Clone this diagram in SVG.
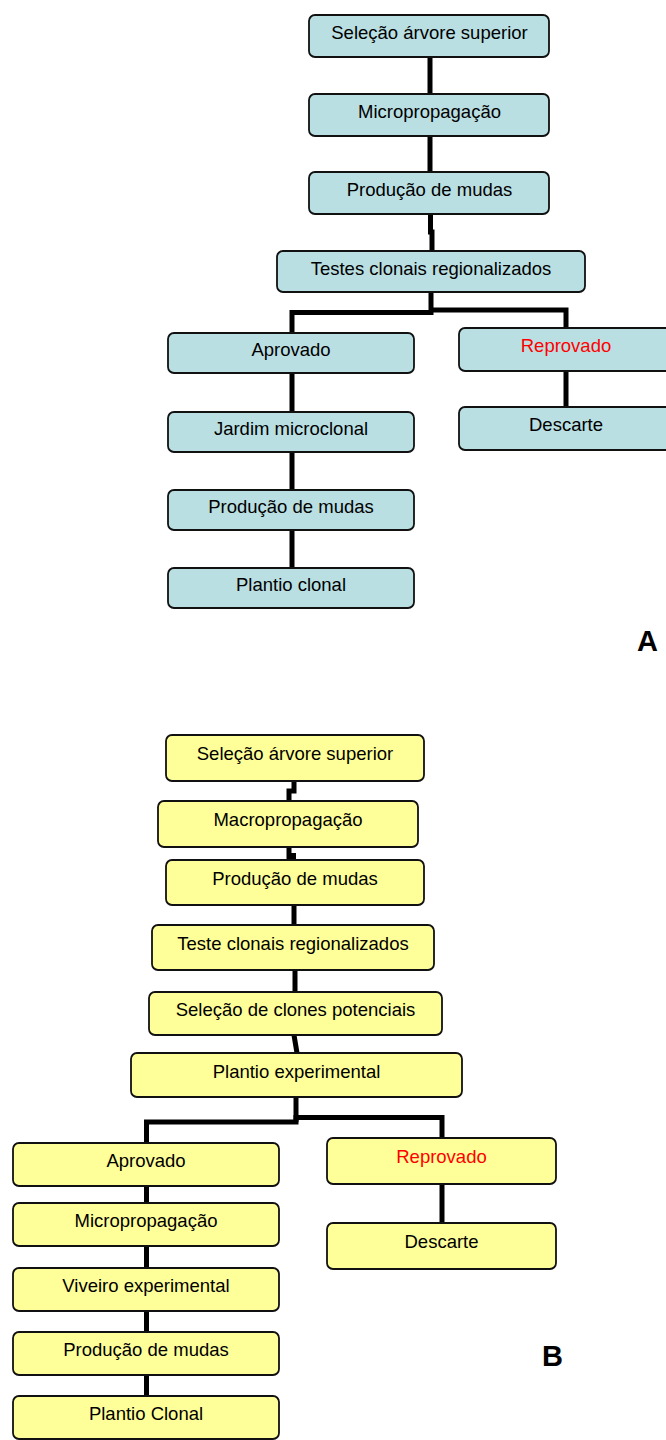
<svg xmlns="http://www.w3.org/2000/svg" width="666" height="1440" viewBox="0 0 666 1440">
<style>
.a rect{fill:#B9DFE2;stroke:#111;stroke-width:1.8}
.b rect{fill:#FFFF99;stroke:#111;stroke-width:1.8}
text{font-family:"Liberation Sans",Arial,sans-serif;font-size:18.5px;fill:#000;text-anchor:middle}
.red{fill:#FF0000}
.lbl{font-weight:bold;font-size:29px;text-anchor:start}
.con path{fill:none;stroke:#000;stroke-width:5}
</style>
<rect width="666" height="1440" fill="#fff"/>
<g class="con" id="connectors">
<path d="M430,57 V94"/>
<path d="M430,136 V172"/>
<path d="M430.5,214 V232 H432 V251"/>
<path d="M431,292 V312"/>
<path d="M292,333 V312.5 H433.5"/>
<path d="M429,310 H566 V328"/>
<path d="M292,373 V412"/>
<path d="M292,452 V490"/>
<path d="M292,530 V568"/>
<path d="M566,371 V407"/>
<path d="M294,781 V791 H289 V801"/>
<path d="M289,847 V860"/>
<path d="M293.5,853 V860"/>
<path d="M294,905 V925"/>
<path d="M295,970 V992"/>
<path d="M294,1035 L297,1053"/>
<path d="M296,1097 V1122"/>
<path d="M146.5,1143 V1122 H298.5"/>
<path d="M293.5,1117.5 H442 V1138"/>
<path d="M442,1184 V1223"/>
<path d="M146.5,1186 V1203"/>
<path d="M146.5,1246 V1268"/>
<path d="M146.5,1311 V1332"/>
<path d="M146.5,1375 V1396"/>
</g>
<g class="a">
<g id="a1"><rect x="309" y="15" width="240" height="42" rx="6"/><text x="429.5" y="39">Seleção árvore superior</text></g>
<g id="a2"><rect x="309" y="94" width="240" height="42" rx="6"/><text x="429.5" y="118">Micropropagação</text></g>
<g id="a3"><rect x="309" y="172" width="240" height="42" rx="6"/><text x="429.5" y="196">Produção de mudas</text></g>
<g id="a4"><rect x="277" y="251" width="308" height="41" rx="6"/><text x="431" y="275">Testes clonais regionalizados</text></g>
<g id="a5"><rect x="168" y="333" width="246" height="40" rx="6"/><text x="291" y="356">Aprovado</text></g>
<g id="a6"><rect x="459" y="328" width="214" height="43" rx="6"/><text x="566" y="352" class="red">Reprovado</text></g>
<g id="a7"><rect x="168" y="412" width="246" height="40" rx="6"/><text x="291" y="435">Jardim microclonal</text></g>
<g id="a8"><rect x="168" y="490" width="246" height="40" rx="6"/><text x="291" y="513">Produção de mudas</text></g>
<g id="a9"><rect x="168" y="568" width="246" height="40" rx="6"/><text x="291" y="591">Plantio clonal</text></g>
<g id="a10"><rect x="459" y="407" width="214" height="43" rx="6"/><text x="566" y="431">Descarte</text></g>
</g>
<text class="lbl" x="637" y="651">A</text>
<g class="b">
<g id="b1"><rect x="166" y="735" width="258" height="46" rx="6"/><text x="295" y="759.5">Seleção árvore superior</text></g>
<g id="b2"><rect x="158" y="801" width="260" height="46" rx="6"/><text x="288" y="825.5">Macropropagação</text></g>
<g id="b3"><rect x="166" y="860" width="258" height="45" rx="6"/><text x="295" y="884.5">Produção de mudas</text></g>
<g id="b4"><rect x="152" y="925" width="282" height="45" rx="6"/><text x="293" y="949.5">Teste clonais regionalizados</text></g>
<g id="b5"><rect x="149" y="992" width="293" height="43" rx="6"/><text x="295.5" y="1016">Seleção de clones potenciais</text></g>
<g id="b6"><rect x="131" y="1053" width="331" height="44" rx="6"/><text x="296.5" y="1078">Plantio experimental</text></g>
<g id="b7"><rect x="13" y="1143" width="266" height="43" rx="6"/><text x="146" y="1167">Aprovado</text></g>
<g id="b8"><rect x="327" y="1138" width="229" height="46" rx="6"/><text x="441.5" y="1162.5" class="red">Reprovado</text></g>
<g id="b9"><rect x="13" y="1203" width="266" height="43" rx="6"/><text x="146" y="1227">Micropropagação</text></g>
<g id="b10"><rect x="327" y="1223" width="229" height="46" rx="6"/><text x="441.5" y="1247.5">Descarte</text></g>
<g id="b11"><rect x="13" y="1268" width="266" height="43" rx="6"/><text x="146" y="1292">Viveiro experimental</text></g>
<g id="b12"><rect x="13" y="1332" width="266" height="43" rx="6"/><text x="146" y="1356">Produção de mudas</text></g>
<g id="b13"><rect x="13" y="1396" width="266" height="43" rx="6"/><text x="146" y="1420">Plantio Clonal</text></g>
</g>
<text class="lbl" x="542" y="1366">B</text>
</svg>
